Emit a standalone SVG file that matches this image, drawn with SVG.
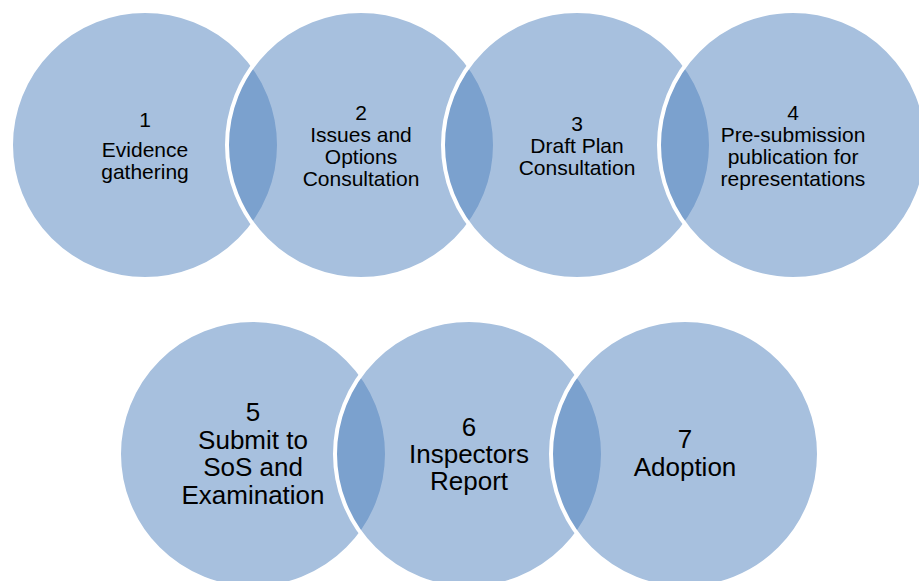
<svg xmlns="http://www.w3.org/2000/svg" width="919" height="581" viewBox="0 0 919 581">
  <style>
    .step { fill: #4F81BD; fill-opacity: 0.5; stroke: #FFFFFF; stroke-width: 4; }
    .lbl { font-family: "Liberation Sans", Arial, sans-serif; fill: #000000; text-anchor: middle; }
    .sm { font-size: 21px; }
    .lg { font-size: 26px; }
  </style>
  <rect x="0" y="0" width="919" height="581" fill="#FFFFFF"/>

  <!-- upper row -->
  <g id="step1">
    <circle class="step" cx="145" cy="145" r="134"/>
    <text class="lbl sm" x="145" y="127">1</text>
    <text class="lbl sm" x="145" y="157">Evidence</text>
    <text class="lbl sm" x="145" y="179">gathering</text>
  </g>
  <g id="step2">
    <circle class="step" cx="361" cy="145" r="134"/>
    <text class="lbl sm" x="361" y="120">2</text>
    <text class="lbl sm" x="361" y="142">Issues and</text>
    <text class="lbl sm" x="361" y="164">Options</text>
    <text class="lbl sm" x="361" y="186">Consultation</text>
  </g>
  <g id="step3">
    <circle class="step" cx="577" cy="145" r="134"/>
    <text class="lbl sm" x="577" y="131">3</text>
    <text class="lbl sm" x="577" y="153">Draft Plan</text>
    <text class="lbl sm" x="577" y="175">Consultation</text>
  </g>
  <g id="step4">
    <circle class="step" cx="793" cy="145" r="134"/>
    <text class="lbl sm" x="793" y="120">4</text>
    <text class="lbl sm" x="793" y="142">Pre-submission</text>
    <text class="lbl sm" x="793" y="164">publication for</text>
    <text class="lbl sm" x="793" y="186">representations</text>
  </g>

  <!-- lower row -->
  <g id="step5">
    <circle class="step" cx="253" cy="454" r="134"/>
    <text class="lbl lg" x="253" y="421">5</text>
    <text class="lbl lg" x="253" y="449">Submit to</text>
    <text class="lbl lg" x="253" y="476">SoS and</text>
    <text class="lbl lg" x="253" y="504">Examination</text>
  </g>
  <g id="step6">
    <circle class="step" cx="469" cy="454" r="134"/>
    <text class="lbl lg" x="469" y="436">6</text>
    <text class="lbl lg" x="469" y="463">Inspectors</text>
    <text class="lbl lg" x="469" y="490">Report</text>
  </g>
  <g id="step7">
    <circle class="step" cx="685" cy="454" r="134"/>
    <text class="lbl lg" x="685" y="448">7</text>
    <text class="lbl lg" x="685" y="476">Adoption</text>
  </g>

  <!-- no connectors: the steps are linked by overlap only -->
  <g id="connectors"/>
</svg>
